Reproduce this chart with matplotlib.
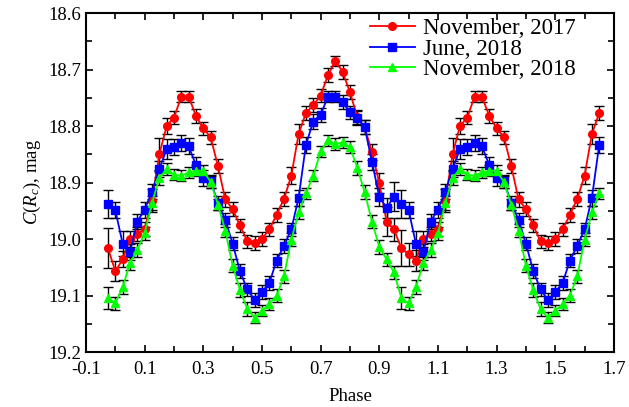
import numpy as np
import matplotlib
matplotlib.use("Agg")
import matplotlib.pyplot as plt
from matplotlib.ticker import MultipleLocator, FixedLocator

plt.rcParams['font.family'] = ['Liberation Serif', 'DejaVu Serif']
plt.rcParams['mathtext.fontset'] = 'custom'
plt.rcParams['mathtext.rm'] = 'Liberation Serif'
plt.rcParams['mathtext.it'] = 'Liberation Serif:italic'

# phase grid of the folded curve (shown from -0.025 to 1.65)
phase = np.round(np.arange(-1, 67) * 0.025, 3)

# November 2017
mag_nov17 = [19.016,
             19.057, 19.036, 19.000, 18.991, 18.982, 18.932, 18.850, 18.800, 18.785, 18.748,
             18.748, 18.782, 18.804, 18.820, 18.871, 18.930, 18.947, 18.976, 19.004, 19.007,
             19.000, 18.983, 18.957, 18.929, 18.888, 18.814, 18.777, 18.763, 18.746, 18.710,
             18.685, 18.704, 18.740, 18.784, 18.802, 18.846, 18.901, 18.969, 18.983, 19.016,
             19.027, 19.038, 19.000, 18.991, 18.982, 18.932, 18.850, 18.800, 18.785, 18.748,
             18.748, 18.782, 18.804, 18.820, 18.871, 18.930, 18.947, 18.976, 19.004, 19.007,
             19.000, 18.983, 18.957, 18.929, 18.888, 18.814, 18.777]
err_nov17 = [0.035,
             0.018, 0.014, 0.014, 0.012, 0.012, 0.020, 0.028, 0.014, 0.012, 0.010,
             0.010, 0.012, 0.012, 0.012, 0.012, 0.014, 0.012, 0.012, 0.012, 0.012,
             0.012, 0.012, 0.012, 0.012, 0.015, 0.017, 0.012, 0.012, 0.012, 0.012,
             0.009, 0.012, 0.012, 0.012, 0.012, 0.014, 0.018, 0.025, 0.020, 0.032,
             0.020, 0.019, 0.014, 0.012, 0.012, 0.020, 0.028, 0.014, 0.012, 0.010,
             0.010, 0.012, 0.012, 0.012, 0.012, 0.014, 0.012, 0.012, 0.012, 0.012,
             0.012, 0.012, 0.012, 0.012, 0.015, 0.017, 0.012]

# June 2018
mag_jun18 = [18.938,
             18.949, 19.008, 19.023, 18.969, 18.948, 18.916, 18.876, 18.841, 18.837, 18.830,
             18.836, 18.869, 18.892, 18.898, 18.936, 18.966, 19.008, 19.057, 19.089, 19.108,
             19.094, 19.078, 19.038, 19.012, 18.983, 18.927, 18.833, 18.792, 18.780, 18.748,
             18.748, 18.757, 18.776, 18.786, 18.802, 18.863, 18.925, 18.945, 18.925, 18.938,
             18.949, 19.008, 19.023, 18.969, 18.948, 18.916, 18.876, 18.841, 18.837, 18.830,
             18.836, 18.869, 18.892, 18.898, 18.936, 18.966, 19.008, 19.057, 19.089, 19.108,
             19.094, 19.078, 19.038, 19.012, 18.983, 18.927, 18.833]
err_jun18 = [0.024,
             0.014, 0.022, 0.014, 0.014, 0.014, 0.014, 0.014, 0.018, 0.014, 0.014,
             0.014, 0.014, 0.014, 0.012, 0.012, 0.012, 0.012, 0.012, 0.012, 0.012,
             0.012, 0.012, 0.012, 0.012, 0.012, 0.014, 0.014, 0.014, 0.012, 0.010,
             0.010, 0.012, 0.012, 0.012, 0.012, 0.014, 0.016, 0.018, 0.026, 0.024,
             0.014, 0.022, 0.014, 0.014, 0.014, 0.014, 0.014, 0.018, 0.014, 0.014,
             0.014, 0.014, 0.014, 0.012, 0.012, 0.012, 0.012, 0.012, 0.012, 0.012,
             0.012, 0.012, 0.012, 0.012, 0.012, 0.014, 0.014]

# November 2018
mag_nov18 = [19.104,
             19.114, 19.085, 19.043, 19.019, 18.990, 18.936, 18.892, 18.876, 18.886, 18.888,
             18.882, 18.879, 18.879, 18.899, 18.939, 18.985, 19.047, 19.090, 19.124, 19.139,
             19.127, 19.115, 19.100, 19.066, 19.001, 18.953, 18.919, 18.888, 18.845, 18.825,
             18.832, 18.829, 18.837, 18.874, 18.917, 18.969, 19.014, 19.036, 19.059, 19.104,
             19.114, 19.085, 19.043, 19.019, 18.990, 18.936, 18.892, 18.876, 18.886, 18.888,
             18.882, 18.879, 18.879, 18.899, 18.939, 18.985, 19.047, 19.090, 19.124, 19.139,
             19.127, 19.115, 19.100, 19.066, 19.001, 18.953, 18.919]
err_nov18 = [0.020,
             0.012, 0.012, 0.012, 0.012, 0.012, 0.012, 0.012, 0.010, 0.010, 0.010,
             0.010, 0.010, 0.010, 0.010, 0.010, 0.012, 0.012, 0.012, 0.012, 0.010,
             0.010, 0.010, 0.012, 0.012, 0.012, 0.012, 0.010, 0.010, 0.010, 0.010,
             0.010, 0.010, 0.010, 0.012, 0.012, 0.012, 0.012, 0.012, 0.012, 0.020,
             0.012, 0.012, 0.012, 0.012, 0.012, 0.012, 0.012, 0.010, 0.010, 0.010,
             0.010, 0.010, 0.010, 0.010, 0.010, 0.012, 0.012, 0.012, 0.012, 0.010,
             0.010, 0.010, 0.012, 0.012, 0.012, 0.012, 0.010]

fig = plt.figure(figsize=(6.29, 4.07), dpi=100)
ax = fig.add_axes([0.1367, 0.135, 0.8393, 0.833])

series = [
    (mag_nov17, err_nov17, 'red', 'o', 'November, 2017'),
    (mag_jun18, err_jun18, 'blue', 's', 'June, 2018'),
    (mag_nov18, err_nov18, '#00ff00', '^', 'November, 2018'),
]
for mag, err, col, mk, lab in series:
    ax.errorbar(phase, mag, yerr=err, fmt='none', ecolor='black',
                elinewidth=1.0, capsize=3.6, capthick=1.0, zorder=2)
    ax.plot(phase, mag, color=col, marker=mk, markersize=5.5, lw=1.3,
            label=lab, zorder=3)

ax.set_xlim(-0.1, 1.7)
ax.set_ylim(19.2, 18.6)
ax.xaxis.set_major_locator(FixedLocator(np.round(np.arange(-0.1, 1.71, 0.2), 1)))
ax.xaxis.set_minor_locator(FixedLocator(np.round(np.arange(0.0, 1.61, 0.2), 1)))
ax.yaxis.set_major_locator(MultipleLocator(0.1))
ax.yaxis.set_minor_locator(MultipleLocator(0.05))
ax.xaxis.set_major_formatter(plt.FuncFormatter(lambda v, p: f'{v:.1f}'))
ax.yaxis.set_major_formatter(plt.FuncFormatter(lambda v, p: f'{v:.1f}'))
ax.tick_params(which='both', direction='in', top=True, right=True,
               labelsize=13.5, width=1.2)
ax.tick_params(which='major', length=5)
ax.tick_params(which='minor', length=4)
ax.tick_params(axis='x', pad=6.5)
for s in ax.spines.values():
    s.set_linewidth(1.5)

ax.set_xlabel('Phase', fontsize=13.5, labelpad=7)
ax.set_ylabel(r'$C(R_c)$, mag', fontsize=13.5, labelpad=4)

ax.legend(loc='upper left', bbox_to_anchor=(0.538, 0.985), frameon=False,
          fontsize=16.5, handlelength=1.95, handletextpad=0.35,
          labelspacing=-0.02, borderaxespad=0, borderpad=0)

fig.savefig('out.png', dpi=100)
